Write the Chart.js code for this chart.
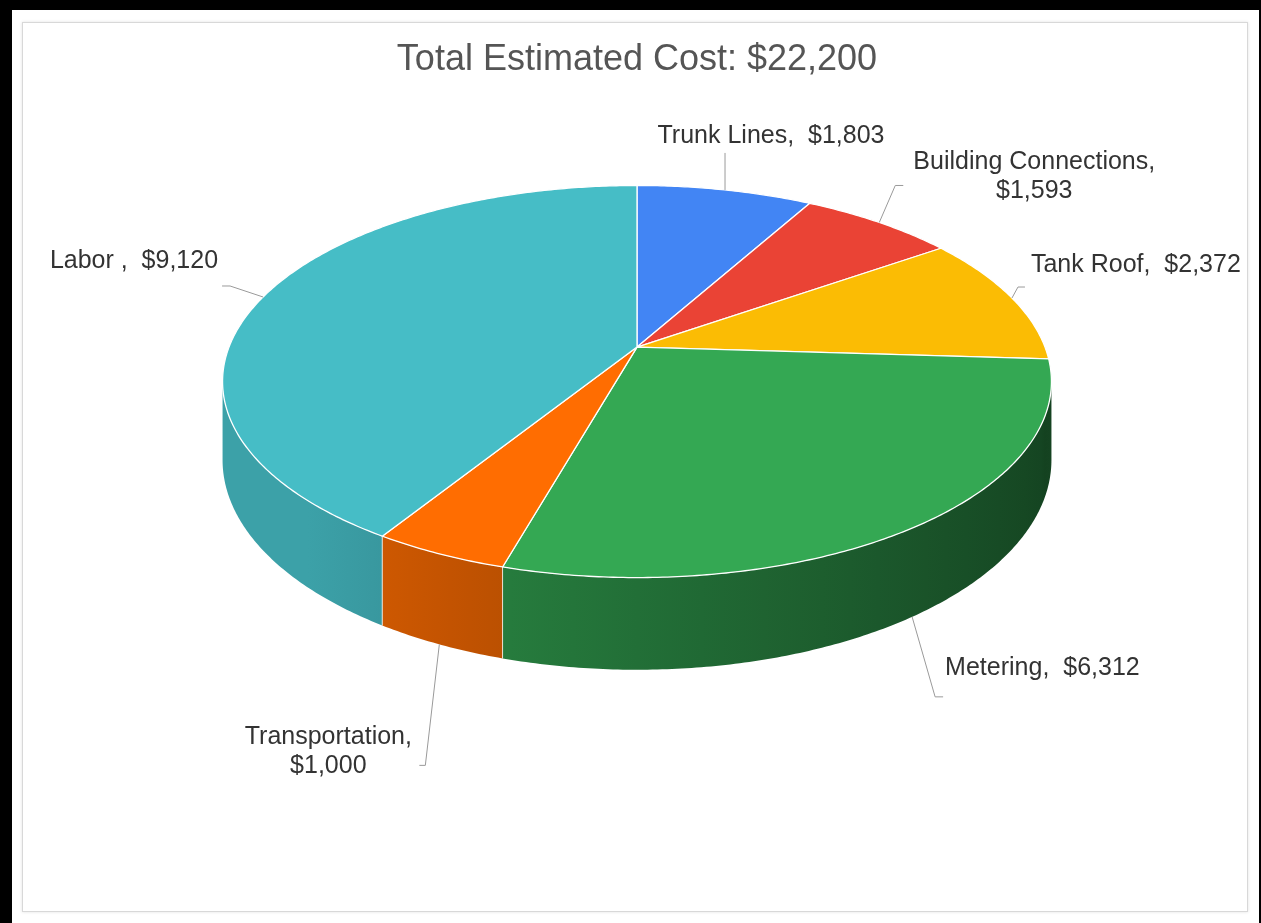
<!DOCTYPE html>
<html>
<head>
<meta charset="utf-8">
<script src="https://cdn.jsdelivr.net/npm/chart.js@4.4.1/dist/chart.umd.min.js"></script>
<style>
  html, body { margin: 0; padding: 0; background: #fff; }
  #frame {
    position: absolute; left: 0; top: 0; width: 1261px; height: 923px;
    box-sizing: border-box;
    border-left: 12px solid #000; border-top: 10px solid #000; border-right: 2px solid #000;
  }
  #card {
    position: absolute; left: 22px; top: 22px; width: 1224px; height: 888px;
    border: 1px solid #d8d8d8; box-shadow: 0 0 3px rgba(0,0,0,0.12);
  }
  #myChart { position: absolute; left: 0; top: 0; }
</style>
</head>
<body>
<div id="frame"></div>
<div id="card"></div>
<canvas id="myChart" width="1261" height="923"></canvas>
<script>
const categories = ['Trunk Lines', 'Building Connections', 'Tank Roof', 'Metering', 'Transportation', 'Labor '];
const costs = [1803, 1593, 2372, 6312, 1000, 9120];
const sliceColors = ['#4285f4', '#ea4335', '#fbbc04', '#34a853', '#ff6d01', '#46bdc6'];
const titleText = 'Total Estimated Cost: $22,200';

// 3d look of the pie: half width, vertical tilt, perspective and wall height
const RX = 408, TILT = 190, PERSP = 0.1756, DEPTH = 76;
const A0 = Math.asin(PERSP);

// where each label sits: lead = elbow from the anchor, tick = short horizontal end,
// text = offset of the first text line from the tick end
const labelLayout = [
  { lead: [0, -37], tick: 0, text: [46, -17], align: 'center', wrap: false },
  { lead: [16, -37], tick: 8, text: [131, -23], align: 'center', wrap: true },
  { lead: [6, -11], tick: 7, text: [6, -22], align: 'left', wrap: false },
  { lead: [23, 80], tick: 8, text: [2, -29], align: 'left', wrap: false },
  { lead: [-14, 121], tick: -6, text: [-91, -28], align: 'center', wrap: true },
  { lead: [-33, -11], tick: -8, text: [-4, -25], align: 'right', wrap: false }
];

function pt(cx, cy, a, drop) {
  const z = Math.sin(a), w = 1 / (1 - PERSP * z);
  return { x: cx + RX * Math.cos(a) * w, y: cy + (TILT * z + drop) * w };
}

function shade(hex, f) {
  const n = parseInt(hex.slice(1), 16);
  const r = Math.round(((n >> 16) & 255) * f);
  const g = Math.round(((n >> 8) & 255) * f);
  const b = Math.round((n & 255) * f);
  return 'rgb(' + r + ',' + g + ',' + b + ')';
}

// side wall: even on the left, getting darker towards the right
function wallLight(a) { return Math.min(0.85, 0.66 - 0.27 * Math.cos(a)); }

function arcPath(ctx, cx, cy, s, e, drop, first) {
  const n = Math.max(2, Math.ceil(Math.abs(e - s) / 0.01));
  for (let k = 0; k <= n; k++) {
    const p = pt(cx, cy, s + (e - s) * k / n, drop);
    if (k === 0 && first) ctx.moveTo(p.x, p.y); else ctx.lineTo(p.x, p.y);
  }
}

const pie3d = {
  id: 'pie3d',
  beforeDatasetsDraw(chart) {
    const ctx = chart.ctx;
    const arcs = chart.getDatasetMeta(0).data;
    const cx = arcs[0].x, cy = arcs[0].y;
    const colors = chart.data.datasets[0].backgroundColor;
    const x0 = cx - RX * 1.05, x1 = cx + RX * 1.05;
    ctx.save();

    // outer walls
    arcs.forEach((arc, i) => {
      const s = Math.max(arc.startAngle, A0), e = Math.min(arc.endAngle, Math.PI - A0);
      if (e <= s) return;
      ctx.beginPath();
      arcPath(ctx, cx, cy, s, e, 0, true);
      arcPath(ctx, cx, cy, e, s, DEPTH, false);
      ctx.closePath();
      const g = ctx.createLinearGradient(x0, 0, x1, 0);
      for (let k = 0; k <= 24; k++) {
        const a = Math.PI * k / 24;
        const p = pt(cx, cy, a, 0);
        g.addColorStop(Math.min(1, Math.max(0, (p.x - x0) / (x1 - x0))), shade(colors[i], wallLight(a)));
      }
      ctx.fillStyle = g;
      ctx.fill();
    });

    // seams between walls
    ctx.strokeStyle = 'rgba(255,255,255,0.75)';
    ctx.lineWidth = 1;
    arcs.forEach(arc => {
      const b = arc.startAngle;
      if (b > A0 && b < Math.PI - A0) {
        const p = pt(cx, cy, b, 0), q = pt(cx, cy, b, DEPTH);
        ctx.beginPath(); ctx.moveTo(p.x, p.y); ctx.lineTo(q.x, q.y); ctx.stroke();
      }
    });

    // top faces
    ctx.lineJoin = 'round';
    arcs.forEach((arc, i) => {
      ctx.beginPath();
      ctx.moveTo(cx, cy);
      arcPath(ctx, cx, cy, arc.startAngle, arc.endAngle, 0, false);
      ctx.closePath();
      ctx.fillStyle = colors[i];
      ctx.fill();
      ctx.strokeStyle = '#ffffff';
      ctx.lineWidth = 1.3;
      ctx.stroke();
    });
    ctx.restore();
    return false;
  },
  afterDraw(chart) {
    const ctx = chart.ctx;
    const arcs = chart.getDatasetMeta(0).data;
    const cx = arcs[0].x, cy = arcs[0].y;
    ctx.save();
    ctx.font = '25px "Liberation Sans", Arial, sans-serif';
    ctx.textBaseline = 'middle';
    arcs.forEach((arc, i) => {
      const m = (arc.startAngle + arc.endAngle) / 2;
      const front = Math.sin(m) > 0;
      const anchor = pt(cx, cy, m, front ? DEPTH : 0);
      const L = labelLayout[i];
      const ex = anchor.x + L.lead[0], ey = anchor.y + L.lead[1];
      ctx.strokeStyle = '#9a9a9a';
      ctx.lineWidth = 1;
      ctx.beginPath();
      ctx.moveTo(anchor.x, anchor.y);
      ctx.lineTo(ex, ey);
      ctx.lineTo(ex + L.tick, ey);
      ctx.stroke();

      const value = '$' + costs[i].toLocaleString('en-US');
      const lines = L.wrap ? [categories[i] + ',', value] : [categories[i] + ',  ' + value];
      ctx.fillStyle = '#333333';
      ctx.textAlign = L.align;
      lines.forEach((t, li) => {
        ctx.fillText(t, ex + L.tick + L.text[0], ey + L.text[1] + li * 29);
      });
    });
    ctx.restore();
  }
};

window.onload = function() {
  const ctx = document.getElementById('myChart');
  new Chart(ctx, {
    type: 'pie',
    data: {
      labels: categories,
      datasets: [{
        data: costs,
        backgroundColor: sliceColors,
        borderWidth: 0
      }]
    },
    options: {
      responsive: false,
      animation: false,
      devicePixelRatio: 1,
      layout: { padding: { left: 14, right: 1, top: 20, bottom: 320 } },
      plugins: {
        legend: { display: false },
        tooltip: { enabled: false },
        title: {
          display: true,
          text: titleText,
          color: '#555555',
          font: { family: '"Liberation Sans", Arial, sans-serif', size: 36, weight: 'normal' },
          padding: { top: 18, bottom: 10 }
        }
      }
    },
    plugins: [pie3d]
  });
};
</script>
</body>
</html>
